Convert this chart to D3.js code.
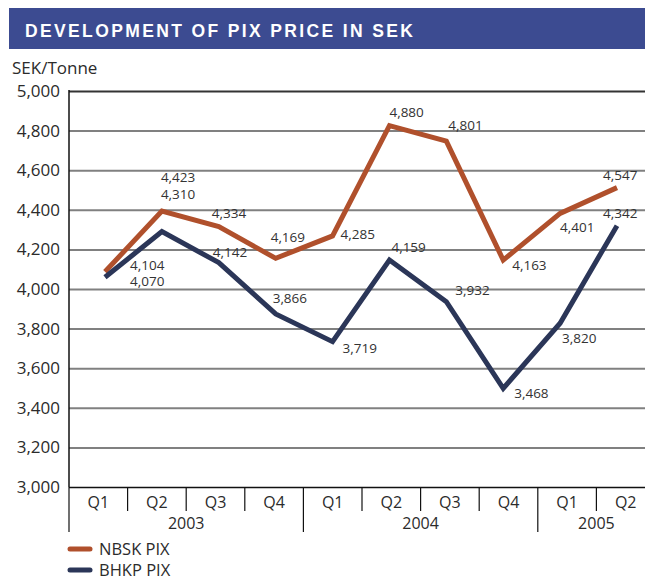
<!DOCTYPE html>
<html>
<head>
<meta charset="utf-8">
<script src="https://cdn.jsdelivr.net/npm/d3@7"></script>
<style>
    body { margin: 0; background: #fff; }
    svg { display: block; overflow: hidden; }
    text { font-family: "Open Sans", "Noto Sans", sans-serif; fill: #2b2b2b; }
</style>
</head>
<body>
<div id="chart"></div>
<script>
// PIX price development in SEK - quarterly line chart

const title = 'DEVELOPMENT OF PIX PRICE IN SEK';
const unitLabel = 'SEK/Tonne';

const periods = ['2003Q1', '2003Q2', '2003Q3', '2003Q4', '2004Q1', '2004Q2', '2004Q3', '2004Q4', '2005Q1', '2005Q2'];
const quarterLabels = ['Q1', 'Q2', 'Q3', 'Q4', 'Q1', 'Q2', 'Q3', 'Q4', 'Q1', 'Q2'];
const years = ['2003', '2004', '2005'];
const yearStarts = ['2003Q1', '2004Q1', '2005Q1'];

const yTicks = [3000, 3200, 3400, 3600, 3800, 4000, 4200, 4400, 4600, 4800, 5000];

// plotted values (as drawn) and the printed labels
const nbskValues = [4087, 4394, 4315, 4155, 4268, 4825, 4747, 4146, 4382, 4512];
const bhkpValues = [4059, 4290, 4133, 3874, 3734, 4146, 3936, 3498, 3827, 4320];
const nbskLabels = ['4,104', '4,423', '4,334', '4,169', '4,285', '4,880', '4,801', '4,163', '4,401', '4,547'];
const bhkpLabels = ['4,070', '4,310', '4,142', '3,866', '3,719', '4,159', '3,932', '3,468', '3,820', '4,342'];

const seriesNames = ['NBSK PIX', 'BHKP PIX'];
const seriesColors = { 'NBSK PIX': '#b0502c', 'BHKP PIX': '#2b3658' };

// label offsets from each point [dx, dy]
const nbskOffsets = [[25, -2], [-1, -29], [-7, -9], [-5, -16], [8, 3], [0, -9], [2, -11], [9, 10], [0, 19], [-14, -8]];
const bhkpOffsets = [[25, 9], [-1, -33], [-6, -6], [-3, -11], [10, 11], [2, -8], [9, -7], [11, 10], [2, 20], [-14, -8]];

const W = 645, H = 576;
const plotLeft = 69, plotTop = 91, plotBottom = 487, plotRight = 655;

const svg = d3.select('#chart')
    .append('svg')
    .attr('width', W)
    .attr('height', H);

// Title band
svg.append('rect')
    .attr('x', 9)
    .attr('y', 8)
    .attr('width', W - 9)
    .attr('height', 41)
    .attr('fill', '#3c4b91');

svg.append('text')
    .attr('x', 25)
    .attr('y', 37)
    .attr('textLength', 388)
    .attr('lengthAdjust', 'spacing')
    .style('font-family', '"Liberation Sans", Arial, sans-serif')
    .style('font-weight', 'bold')
    .style('font-size', '17.5px')
    .style('fill', '#fff')
    .text(title);

svg.append('text')
    .attr('x', 12)
    .attr('y', 74)
    .style('font-size', '17px')
    .text(unitLabel);

// Scales
const y = d3.scaleLinear()
    .domain([3000, 5000])
    .range([plotBottom, plotTop]);

const xBand = d3.scaleBand()
    .domain(periods)
    .range([plotLeft, plotRight]);

const xPoint = d3.scalePoint()
    .domain(periods)
    .range([105, 617]);

// Y axis with grid
const yAxis = svg.append('g')
    .attr('transform', `translate(${plotLeft},0)`)
    .call(d3.axisLeft(y)
        .tickValues(yTicks)
        .tickSize(-(plotRight - plotLeft))
        .tickPadding(9)
        .tickFormat(d3.format(',')));

yAxis.select('.domain').remove();
yAxis.selectAll('.tick line')
    .attr('stroke', d => d === 5000 ? '#333' : (d === 3000 ? '#111' : '#808080'))
    .attr('stroke-width', d => d === 3000 ? 1.5 : 2);
yAxis.selectAll('.tick text')
    .style('font-size', '17px')
    .style('font-family', '"Open Sans", sans-serif')
    .attr('fill', '#2b2b2b');

// left axis line
svg.append('line')
    .attr('x1', plotLeft).attr('x2', plotLeft)
    .attr('y1', plotTop - 1).attr('y2', plotBottom)
    .attr('stroke', '#111')
    .attr('stroke-width', 1.5);

// X axis: quarter labels
const xAxis = svg.append('g')
    .attr('transform', `translate(0,${plotBottom})`)
    .call(d3.axisBottom(xBand)
        .tickSize(0)
        .tickPadding(5)
        .tickFormat((d, i) => quarterLabels[i]));

xAxis.select('.domain').remove();
xAxis.selectAll('.tick text')
    .attr('dy', null)
    .attr('y', 21)
    .style('font-size', '16px')
    .style('font-family', '"Open Sans", sans-serif')
    .attr('fill', '#2b2b2b');

// dividers between quarters, longer at year starts
svg.append('g')
    .selectAll('line')
    .data(periods)
    .join('line')
    .attr('x1', d => xBand(d))
    .attr('x2', d => xBand(d))
    .attr('y1', plotBottom)
    .attr('y2', d => yearStarts.includes(d) ? 532 : 511)
    .attr('stroke', '#111')
    .attr('stroke-width', 1.2);

// year labels centred over their quarters
svg.append('g')
    .selectAll('text')
    .data(years)
    .join('text')
    .attr('x', d => {
        const qs = periods.filter(p => p.startsWith(d));
        return (xBand(qs[0]) + xBand(qs[qs.length - 1]) + xBand.bandwidth()) / 2;
    })
    .attr('y', 529)
    .attr('text-anchor', 'middle')
    .style('font-size', '16px')
    .text(d => d);

// Lines
const series = [
    { name: 'NBSK PIX', values: nbskValues, labels: nbskLabels, offsets: nbskOffsets },
    { name: 'BHKP PIX', values: bhkpValues, labels: bhkpLabels, offsets: bhkpOffsets }
];

const line = d3.line()
    .x((d, i) => xPoint(periods[i]))
    .y(d => y(d));

svg.append('g')
    .selectAll('path')
    .data(series)
    .join('path')
    .attr('d', d => line(d.values))
    .attr('fill', 'none')
    .attr('stroke', d => seriesColors[d.name])
    .attr('stroke-width', 5)
    .attr('stroke-linejoin', 'miter');

// Value labels
series.forEach(s => {
    svg.append('g')
        .selectAll('text')
        .data(s.values)
        .join('text')
        .attr('x', (d, i) => xPoint(periods[i]) + s.offsets[i][0])
        .attr('y', (d, i) => y(d) + s.offsets[i][1])
        .style('font-size', '13.5px')
        .style('fill', '#333')
        .text((d, i) => s.labels[i]);
});

// Legend
const legend = svg.append('g')
    .selectAll('g')
    .data(seriesNames)
    .join('g')
    .attr('transform', (d, i) => `translate(68,${549 + i * 21})`);

legend.append('line')
    .attr('x1', 2).attr('x2', 22)
    .attr('y1', 0).attr('y2', 0)
    .attr('stroke', d => seriesColors[d])
    .attr('stroke-width', 5)
    .attr('stroke-linecap', 'round');

legend.append('text')
    .attr('x', 31)
    .attr('y', 6)
    .style('font-size', '16.5px')
    .text(d => d);
</script>
</body>
</html>
